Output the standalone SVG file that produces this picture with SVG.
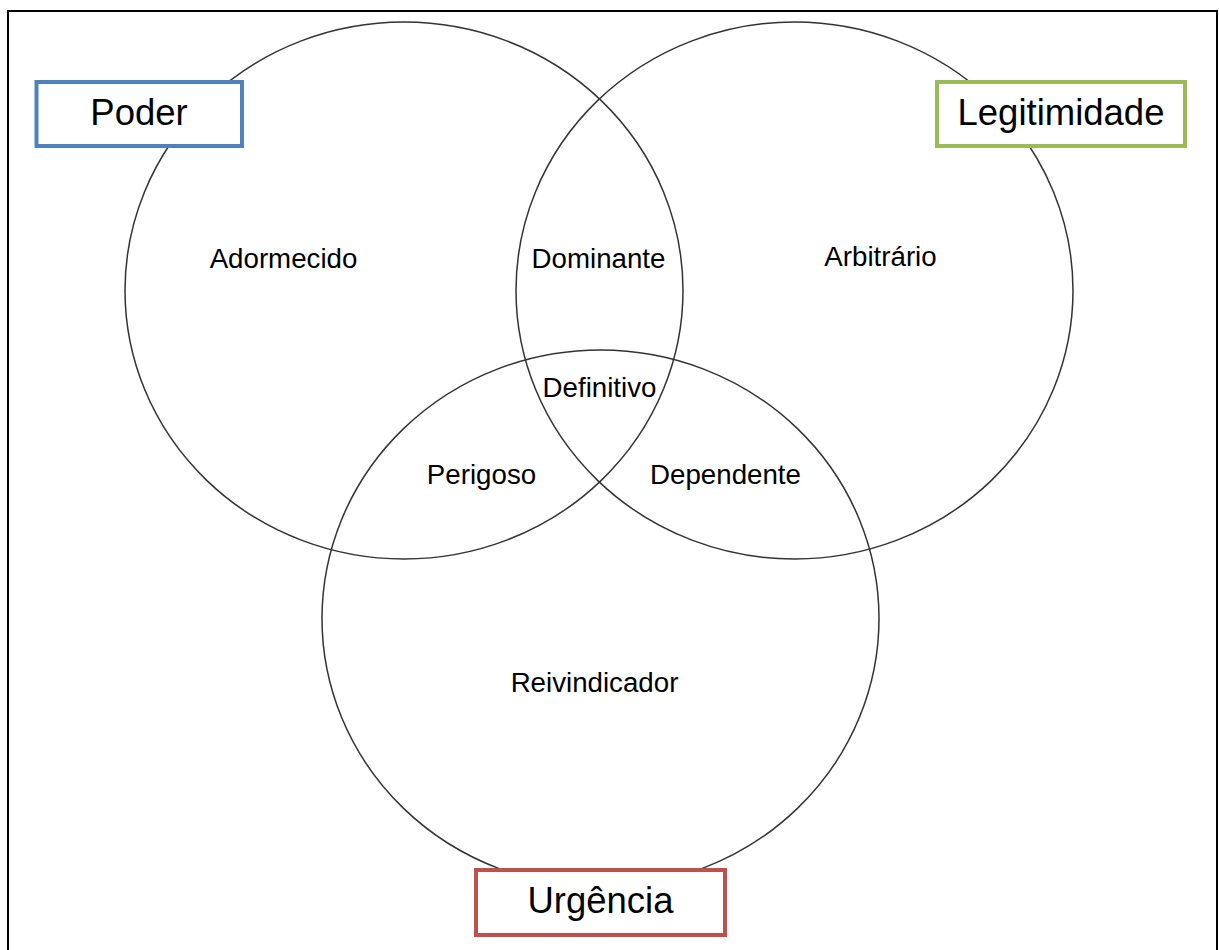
<svg xmlns="http://www.w3.org/2000/svg" width="1219" height="950" viewBox="0 0 1219 950">
<style>
.c{fill:none;stroke:#333;stroke-width:1.5}
.lbl{font-family:"Liberation Sans",Arial,sans-serif;font-size:27.7px;fill:#000;text-anchor:middle}
.box{fill:#fff;stroke-width:4}
.bt{font-family:"Liberation Sans",Arial,sans-serif;font-size:36.5px;fill:#000;text-anchor:middle}
</style>
<rect x="0" y="0" width="1219" height="950" fill="#fff"/>
<rect id="frame" x="8" y="11" width="1209" height="960" fill="none" stroke="#000" stroke-width="2"/>
<g id="circles">
<ellipse id="c-poder" class="c" cx="404" cy="290.5" rx="279" ry="268.5"/>
<ellipse id="c-legit" class="c" cx="794.5" cy="290.5" rx="278.5" ry="268.5"/>
<ellipse id="c-urg" class="c" cx="600.5" cy="618.5" rx="278.5" ry="268.5"/>
</g>
<g id="regions">
<text class="lbl" x="283.5" y="268">Adormecido</text>
<text class="lbl" x="598.5" y="268">Dominante</text>
<text class="lbl" x="880.5" y="266">Arbitrário</text>
<text class="lbl" x="599.5" y="397">Definitivo</text>
<text class="lbl" x="481.5" y="484">Perigoso</text>
<text class="lbl" x="725.5" y="484">Dependente</text>
<text class="lbl" x="594.5" y="692">Reivindicador</text>
</g>
<g id="poder">
<rect class="box" x="36.5" y="82" width="205.5" height="64" stroke="#4F81BD"/>
<text class="bt" x="139" y="125">Poder</text>
</g>
<g id="legitimidade">
<rect class="box" x="937" y="82" width="248" height="64" stroke="#9BBB59"/>
<text class="bt" x="1061" y="125">Legitimidade</text>
</g>
<g id="urgencia">
<rect class="box" x="476" y="870" width="249" height="65" stroke="#C0504D"/>
<text class="bt" x="600.5" y="913">Urgência</text>
</g>
</svg>
